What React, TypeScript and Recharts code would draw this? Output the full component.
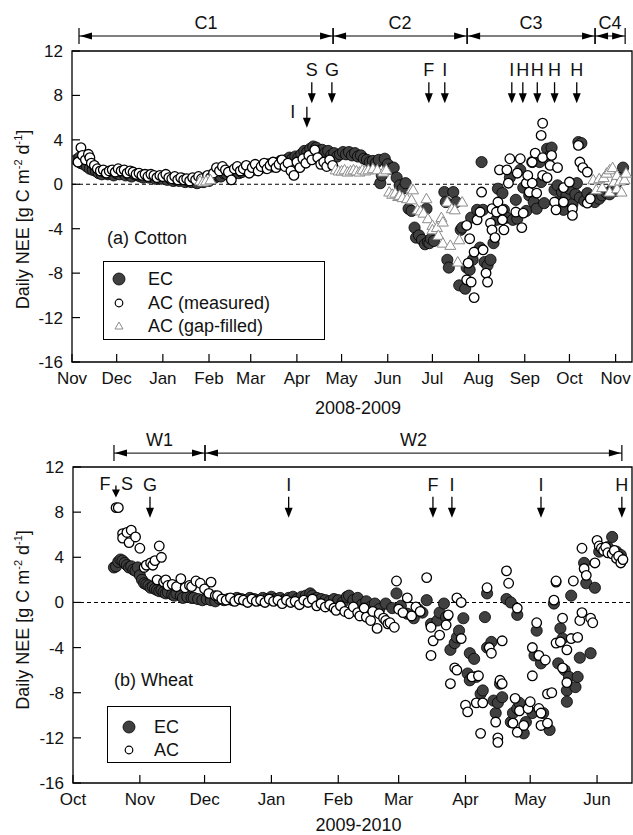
import React from "react";
import { ScatterChart, Scatter, XAxis, YAxis, ReferenceLine, ReferenceDot, ReferenceArea, Legend } from "recharts";

type Pt = [number, number];

// x = days since 1 Nov 2008 (cotton) / 1 Oct 2009 (wheat), y = daily NEE [g C m-2 d-1]
const cottonMonthTicks = [0, 30, 61, 92, 120, 151, 181, 212, 242, 273, 304, 334, 365];
const cottonMonthLabels = ["Nov", "Dec", "Jan", "Feb", "Mar", "Apr", "May", "Jun", "Jul", "Aug", "Sep", "Oct", "Nov"];
const wheatMonthTicks = [0, 31, 61, 92, 123, 151, 182, 212, 243];
const wheatMonthLabels = ["Oct", "Nov", "Dec", "Jan", "Feb", "Mar", "Apr", "May", "Jun"];
const neeTicks = [-16, -12, -8, -4, 0, 4, 8, 12];

const cottonPeriods = [
  { name: "C1", from: 4.7, to: 175.3 },
  { name: "C2", from: 175.3, to: 265.3 },
  { name: "C3", from: 265.3, to: 351.2 },
  { name: "C4", from: 351.2, to: 371.4 },
];
const wheatPeriods = [
  { name: "W1", from: 19, to: 61.2 },
  { name: "W2", from: 61.2, to: 254.5 },
];

const cottonEvents = [
  { day: 157.7, label: "I", kind: "left" },
  { day: 161, label: "S", kind: "top" },
  { day: 174.5, label: "G", kind: "top" },
  { day: 239.6, label: "F", kind: "top" },
  { day: 250.3, label: "I", kind: "top" },
  { day: 295.3, label: "I", kind: "top" },
  { day: 302.7, label: "H", kind: "top" },
  { day: 312.4, label: "H", kind: "top" },
  { day: 324, label: "H", kind: "top" },
  { day: 338.9, label: "H", kind: "top" },
];
const wheatEvents = [
  { day: 19.9, label: "F S", kind: "split" },
  { day: 35.7, label: "G", kind: "top" },
  { day: 100, label: "I", kind: "top" },
  { day: 166.9, label: "F", kind: "top" },
  { day: 175.7, label: "I", kind: "top" },
  { day: 217, label: "I", kind: "top" },
  { day: 254.5, label: "H", kind: "top" },
];

const cottonEC: Pt[] = [
  [3, 2.2], [5, 2.4], [6, 1.9], [8, 1.8], [10, 1.6], [12, 1.4], [14, 1.3], [16, 1.2], [18, 1.0], [20, 0.9],
  [22, 1.1], [24, 0.9], [26, 1.0], [28, 0.8], [30, 1.0], [32, 0.9], [34, 1.1], [36, 0.8], [38, 0.9], [40, 0.7],
  [42, 0.9], [44, 0.8], [46, 0.7], [48, 0.6], [50, 0.8], [52, 0.6], [54, 0.7], [56, 0.5], [58, 0.6], [60, 0.5],
  [62, 0.7], [64, 0.4], [66, 0.5], [68, 0.3], [70, 0.4], [72, 0.3], [74, 0.5], [76, 0.2], [78, 0.3], [80, 0.2],
  [82, 0.4], [84, 0.1], [86, 0.3], [88, 0.2], [90, 0.4], [92, 0.3], [94, 0.5], [96, 0.6], [98, 0.8], [100, 0.7],
  [102, 1.0], [104, 0.9], [106, 1.1], [108, 0.9], [110, 1.2], [112, 1.0], [114, 1.1], [116, 1.3], [118, 1.2], [120, 1.4],
  [122, 1.3], [124, 1.5], [126, 1.4], [128, 1.6], [130, 1.5], [132, 1.8], [134, 1.6], [136, 1.9], [138, 1.8], [140, 2.1],
  [142, 1.9], [144, 2.2], [146, 2.4], [148, 2.3], [150, 2.5], [152, 2.4], [154, 2.7], [156, 3.0], [158, 2.9], [160, 3.2],
  [162, 3.4], [164, 3.3], [166, 3.0], [168, 3.1], [170, 2.8], [172, 3.0], [174, 2.6], [176, 2.8], [178, 2.5], [180, 2.7],
  [182, 2.9], [184, 2.7], [186, 2.9], [188, 2.6], [190, 2.8], [192, 2.5], [194, 2.6], [196, 2.3], [198, 2.2], [200, 2.0],
  [202, 2.1], [204, 1.9], [206, 2.2], [207, 0.1], [208, 0.8], [210, 2.3], [212, 1.8], [214, 1.4], [216, 1.5], [218, 0.6],
  [220, -0.1], [222, -0.4], [224, 0.1], [226, -2.2], [228, -2.4], [230, -3.9], [231, -4.8], [233, -4.6], [235, -5.0], [237, -5.4],
  [238, -2.2], [239, -5.2], [240, -5.3], [241, -4.9], [243, -5.1], [250, -0.7], [251, -1.6], [252, -6.8], [253, -7.5], [256, -0.7],
  [258, -1.6], [260, -9.1], [261, -4.1], [262, -3.9], [264, -9.4], [265, -7.5], [267, -7.7], [268, -3.0], [269, -6.8], [272, -2.3],
  [274, -5.7], [275, 2.0], [276, -2.3], [277, -7.0], [279, -7.3], [281, -6.8], [283, -5.3], [285, -3.2], [286, -0.4], [289, -0.8],
  [290, -2.3], [292, -3.0], [294, 0.6], [296, -3.2], [298, -1.4], [299, -3.1], [301, 1.3], [303, -0.3], [305, -2.4], [307, -1.0],
  [309, 2.0], [310, -1.6], [312, -2.2], [314, 2.0], [315, 0.2], [317, -1.7], [319, 3.2], [321, 2.6], [322, 3.3], [324, -0.5],
  [326, -0.1], [327, -1.5], [329, -0.7], [330, -2.3], [332, -1.0], [334, -0.4], [336, -1.8], [338, -0.9], [339, 0.1], [340, 3.8],
  [341, -1.2], [342, 3.7], [344, -1.5], [346, -0.8], [349, -1.2], [351, -1.6], [354, -1.3], [356, -1.0], [359, -0.8], [361, -0.9],
  [363, -0.4], [365, -0.6], [366, 0.2], [368, 0.6], [370, 1.5],
];

const cottonACMeasured: Pt[] = [
  [4, 2.0], [6, 3.3], [7, 2.6], [9, 2.2], [11, 2.7], [12, 2.4], [13, 1.9], [15, 1.7], [17, 1.4], [19, 1.2],
  [21, 1.3], [23, 1.0], [25, 1.2], [27, 1.3], [29, 1.1], [31, 1.4], [33, 1.2], [35, 1.3], [37, 1.0], [39, 1.2],
  [41, 1.1], [43, 0.9], [45, 1.0], [47, 0.8], [49, 0.9], [51, 0.7], [53, 0.9], [55, 0.8], [57, 0.6], [59, 0.8],
  [61, 0.7], [63, 0.9], [65, 0.6], [67, 0.5], [69, 0.7], [71, 0.4], [73, 0.6], [75, 0.4], [77, 0.5], [79, 0.3],
  [81, 0.6], [83, 0.4], [85, 0.7], [87, 0.5], [89, 0.2], [91, 0.8], [93, 0.6], [95, 1.0], [97, 1.5], [99, 1.2],
  [101, 1.6], [103, 1.3], [105, 1.1], [107, 0.4], [109, 1.4], [111, 1.6], [113, 1.2], [115, 1.4], [117, 1.7], [119, 1.0],
  [121, 1.5], [123, 1.8], [125, 1.2], [127, 1.6], [129, 1.9], [131, 1.4], [133, 1.7], [135, 2.0], [137, 1.5], [139, 1.8],
  [141, 2.2], [143, 1.6], [145, 1.9], [147, 1.2], [149, 0.8], [151, 2.0], [153, 1.5], [155, 2.3], [157, 1.9], [159, 2.6],
  [161, 2.2], [163, 3.1], [165, 2.4], [167, 1.8], [169, 2.0], [171, 1.6], [173, 2.2], [175, 1.7],
  [265, -3.7], [265, -8.6], [266, -7.1], [267, -4.9], [268, -8.8], [270, -10.2], [270, -6.1], [272, -3.2], [274, -2.5], [275, -0.7],
  [276, -5.9], [278, -8.0], [279, -8.8], [281, -3.5], [282, -4.1], [282, -2.2], [284, -4.8], [285, -2.5], [286, -1.6], [287, 1.3],
  [289, -2.3], [289, -3.2], [290, -4.1], [292, 1.3], [293, 0.1], [294, 2.3], [298, -2.5], [299, 1.0], [301, 2.3], [302, -3.9],
  [303, -2.6], [305, 0.1], [306, 0.8], [307, -0.7], [309, 2.0], [309, 0.1], [311, 2.8], [312, -0.8], [315, 4.4], [316, 5.5],
  [316, 2.4], [316, 0.8], [319, 0.6], [321, 1.7], [322, 2.6], [324, -1.6], [325, -2.3], [326, 1.5], [330, -1.6], [330, -0.3],
  [334, 0.2], [336, -2.2], [336, -2.8], [340, 3.5], [341, 2.0], [343, 1.5], [346, 1.1], [346, -1.7], [348, -1.3],
];

const cottonACGapFilled: Pt[] = [
  [86, 0.3], [88, 0.2], [90, 0.3], [93, 0.4],
  [177, 1.3], [179, 1.2], [181, 1.2], [183, 1.3], [185, 1.1], [187, 1.2], [189, 1.3], [191, 1.2], [193, 1.1], [195, 1.3],
  [197, 1.2], [199, 1.3], [202, 1.4], [205, 1.3], [209, 1.1], [211, 1.3], [213, -0.7], [215, -0.9], [217, -0.8], [219, -1.1],
  [220, -1.0], [222, -1.2], [225, -1.3], [228, -1.4], [228, -0.4], [229, -0.5], [232, -2.3], [234, -2.4], [236, -2.6], [238, -1.3],
  [239, -3.1], [242, -3.7], [242, -4.1], [245, -3.9], [246, -4.6], [248, -3.0], [249, -3.4], [249, -5.3], [252, -1.6], [254, -5.5],
  [255, -2.2], [257, -2.3], [259, -7.0], [260, -5.0], [262, -1.6],
  [350, 0.4], [352, -0.5], [354, 0.5], [356, -0.3], [357, 0.6], [359, 1.0], [361, 1.3], [361, -0.7], [363, 1.5], [364, 0.2],
  [366, 0.8], [366, -0.4], [368, 0.3], [369, -0.7], [371, 0.4], [372, 1.0],
];

const wheatEC: Pt[] = [
  [19, 3.1], [20, 3.2], [21, 3.6], [22, 3.8], [23, 3.7], [24, 3.5], [25, 3.3], [26, 3.1], [27, 3.2], [28, 2.9],
  [29, 2.8], [30, 3.1], [31, 2.4], [32, 2.0], [33, 1.7], [34, 1.6], [35, 1.5], [36, 1.3], [37, 1.4], [38, 1.2],
  [39, 1.1], [40, 1.0], [41, 1.1], [42, 0.9], [43, 0.8], [44, 0.9], [46, 0.7], [47, 0.6], [48, 0.8], [50, 0.6],
  [51, 0.4], [53, 0.5], [55, 0.4], [56, 0.4], [58, 0.3], [60, 0.2], [62, 0.3], [64, 0.2], [66, 0.1], [68, 0.3],
  [70, 0.2], [72, 0.3], [74, 0.2], [76, 0.4], [78, 0.3], [80, 0.2], [82, 0.4], [84, 0.3], [86, 0.2], [88, 0.4],
  [90, 0.3], [92, 0.5], [94, 0.3], [96, 0.4], [98, 0.2], [100, 0.4], [102, 0.5], [104, 0.3], [106, 0.5], [108, 0.6],
  [110, 0.8], [111, 0.6], [113, 0.4], [115, 0.3], [117, 0.2], [119, 0.1], [121, 0.3], [123, 0.2], [125, 0.0], [127, 0.5],
  [128, 0.6], [130, 0.2], [132, 0.4], [134, -0.2], [136, 0.1], [138, -0.4], [140, -0.1], [142, -0.6], [145, -0.1], [148, -0.5],
  [150, 0.8], [152, -0.3], [155, -1.0], [158, -1.4], [160, -0.6], [162, -0.9], [164, 0.2], [166, -1.9], [169, -1.6], [170, -0.9],
  [172, -0.1], [173, -1.3], [175, -4.2], [177, -3.6], [178, -3.1], [179, -2.5], [181, -1.4], [183, -6.3], [184, -4.5], [184, -6.9],
  [186, -5.0], [187, -6.6], [189, -8.1], [190, -7.8], [191, -1.3], [192, 0.8], [192, -4.0], [194, -3.5], [195, -8.7], [196, -9.8],
  [197, -8.9], [198, -7.2], [199, -8.4], [201, 0.3], [203, 0.0], [203, -10.6], [204, -9.8], [206, -9.4], [206, -1.1], [207, -8.9],
  [209, -11.6], [210, -10.6], [213, -9.8], [214, -4.7], [215, -2.5], [217, -5.4], [218, -9.8], [221, -11.3], [223, -0.1], [225, -5.4],
  [226, -2.3], [227, -3.2], [228, -6.0], [229, -7.8], [229, -8.8], [230, -6.6], [231, 0.6], [233, -7.5], [234, -6.6], [235, -4.9],
  [237, 3.5], [238, 1.7], [240, -4.5], [242, 1.3], [244, 4.5], [246, 4.7], [248, 4.9], [250, 5.8], [252, 4.5], [254, 4.2],
];

const wheatAC: Pt[] = [
  [20, 8.4], [21, 8.4], [23, 6.1], [23, 5.7], [25, 6.2], [26, 5.3], [27, 6.4], [29, 5.8], [31, 4.8], [33, 3.1],
  [34, 3.3], [36, 3.5], [37, 3.3], [38, 3.7], [40, 5.0], [41, 4.0], [39, 2.0], [42, 1.8], [43, 2.0], [44, 1.5],
  [46, 1.6], [48, 1.4], [50, 2.1], [52, 1.3], [54, 1.5], [55, 1.4], [57, 1.9], [59, 1.7], [61, 1.2], [63, 0.8],
  [64, 1.8], [66, 0.6], [67, 0.6], [69, 0.3], [71, 0.2], [73, 0.4], [75, 0.1], [77, 0.3], [79, 0.2], [81, 0.0],
  [83, 0.3], [85, 0.1], [87, 0.2], [89, 0.0], [91, 0.3], [93, 0.1], [95, 0.2], [97, -0.1], [99, 0.2], [101, 0.0],
  [103, 0.1], [105, -0.2], [107, 0.2], [109, 0.0], [111, 0.3], [113, -0.3], [115, -0.1], [117, -0.4], [119, -0.2], [121, -0.5],
  [122, -0.7], [124, -0.3], [126, -0.8], [128, -1.0], [130, -0.4], [132, -0.9], [133, -1.2], [135, -0.5], [136, -1.3], [138, -1.6],
  [139, -0.8], [141, -2.3], [142, -1.0], [144, -1.4], [145, -1.6], [146, -1.9], [147, -1.8], [149, -2.2], [150, 1.9], [151, -0.6],
  [153, -0.9], [155, 0.4], [157, -1.2], [159, -0.4], [161, -0.8], [164, 2.2], [166, -2.2], [166, -4.7], [167, -3.4], [170, -2.9],
  [173, -2.0], [174, -1.1], [175, -7.2], [177, -5.8], [178, -6.0], [178, 0.4], [180, 0.0], [180, -3.2], [182, -9.1], [183, -9.7],
  [185, -6.6], [187, -8.9], [188, -6.5], [189, -11.6], [190, -8.9], [192, 1.3], [193, -4.0], [194, -4.5], [196, -10.6], [197, -12.0],
  [197, -12.4], [198, -6.9], [199, -7.2], [199, -3.4], [201, 2.8], [202, 1.7], [204, -10.7], [205, -8.5], [206, -0.5], [206, -11.5],
  [207, -9.6], [209, -10.9], [211, -9.4], [212, -8.8], [213, -6.5], [213, -4.0], [215, -1.8], [216, -4.7], [216, -9.4], [217, -9.8],
  [217, -10.9], [219, -5.1], [220, -10.7], [220, -8.1], [222, -8.0], [223, 0.2], [224, 1.8], [224, 1.9], [224, -3.6], [226, -3.5],
  [227, -1.4], [227, -5.8], [229, -4.2], [229, -7.1], [231, -3.2], [232, 1.9], [234, -3.1], [235, -1.6], [236, -0.9], [236, 4.8],
  [237, 3.0], [238, 2.4], [240, -1.4], [241, -1.8], [242, 3.5], [243, 5.5], [244, 5.0], [245, 4.8], [246, 4.6], [247, 4.9],
  [248, 4.4], [250, 4.3], [251, 4.6], [252, 3.9], [253, 4.1], [254, 3.5], [255, 3.8],
];

const FONT = '"Liberation Sans", Arial, Helvetica, sans-serif';
const INK = "#111";

const toPts = (a: Pt[]) => a.map(([d, v]) => ({ d, v }));

const ecShape = (p: any) => <circle cx={p.cx} cy={p.cy} r={5.6} fill="#404040" stroke="#000" strokeWidth={0.8} />;
const acShape = (p: any) => <circle cx={p.cx} cy={p.cy} r={4.8} fill="#fff" stroke="#000" strokeWidth={1.3} />;
const gapShape = (p: any) => (
  <polygon
    points={`${p.cx},${p.cy - 5.5} ${p.cx + 5.5},${p.cy + 4} ${p.cx - 5.5},${p.cy + 4}`}
    fill="#fff"
    stroke="#8c8c8c"
    strokeWidth={1}
  />
);

const monthTick = (ticks: number[], labels: string[]) => (p: any) => {
  const i = ticks.indexOf(p.payload.value);
  return (
    <g>
      <line x1={p.x} y1={p.y} x2={p.x} y2={p.y - 8} stroke="#000" strokeWidth={1.2} />
      <text x={p.x} y={p.y + 22} textAnchor="middle" fontSize={17} fontFamily={FONT} fill={INK}>
        {labels[i]}
      </text>
    </g>
  );
};

const neeTick = (p: any) => (
  <g>
    <line x1={p.x} y1={p.y} x2={p.x + 8} y2={p.y} stroke="#000" strokeWidth={1.2} />
    <text x={p.x - 9} y={p.y + 6} textAnchor="end" fontSize={17} fontFamily={FONT} fill={INK}>
      {p.payload.value}
    </text>
  </g>
);

const yLabel = (shift: number) => (props: any) => {
  const vb = props.viewBox;
  const x = 29;
  const cy = vb.y + vb.height / 2 + shift;
  return (
    <text
      x={x}
      y={cy}
      transform={`rotate(-90 ${x} ${cy})`}
      textAnchor="middle"
      fontSize={18}
      fontFamily={FONT}
      fill={INK}
    >
      Daily NEE [g C m
      <tspan dy={-7} fontSize={11}>-2</tspan>
      <tspan dy={7}> d</tspan>
      <tspan dy={-7} fontSize={11}>-1</tspan>
      <tspan dy={7}>]</tspan>
    </text>
  );
};

const xLabel = (text: string, below: number) => (props: any) => {
  const vb = props.viewBox;
  return (
    <text x={vb.x + vb.width / 2 + 6} y={vb.y + below} textAnchor="middle" fontSize={18} fontFamily={FONT} fill={INK}>
      {text}
    </text>
  );
};

const periodShape = (label: string) => (p: any) => {
  const { x1, x2, y1 } = p;
  return (
    <g>
      <line x1={x1} y1={y1} x2={x2} y2={y1} stroke="#000" strokeWidth={1} />
      <line x1={x1} y1={y1 - 8} x2={x1} y2={y1 + 8} stroke="#000" strokeWidth={1.2} />
      <line x1={x2} y1={y1 - 8} x2={x2} y2={y1 + 8} stroke="#000" strokeWidth={1.2} />
      <polygon points={`${x1 + 1},${y1} ${x1 + 13},${y1 - 3.5} ${x1 + 13},${y1 + 3.5}`} fill="#000" />
      <polygon points={`${x2 - 1},${y1} ${x2 - 13},${y1 - 3.5} ${x2 - 13},${y1 + 3.5}`} fill="#000" />
      <text x={(x1 + x2) / 2} y={y1 - 7} textAnchor="middle" fontSize={18} fontFamily={FONT} fill={INK}>
        {label}
      </text>
    </g>
  );
};

const eventShape = (label: string, kind: string) => (p: any) => {
  const { cx, cy } = p;
  const txt = (x: number, y: number, s: string) => (
    <text x={x} y={y} textAnchor="middle" fontSize={18} fontFamily={FONT} fill={INK}>
      {s}
    </text>
  );
  if (kind === "split") {
    const [a, b] = label.split(" ");
    return (
      <g>
        <line x1={cx} y1={cy - 12} x2={cx} y2={cy - 6} stroke="#000" strokeWidth={1.3} />
        <polygon points={`${cx - 4},${cy - 8} ${cx + 4},${cy - 8} ${cx},${cy}`} fill="#000" />
        {txt(cx - 11, cy - 7, a)}
        {txt(cx + 11, cy - 7, b)}
      </g>
    );
  }
  return (
    <g>
      <line x1={cx} y1={cy - 21} x2={cx} y2={cy - 8} stroke="#000" strokeWidth={1.3} />
      <polygon points={`${cx - 4},${cy - 10} ${cx + 4},${cy - 10} ${cx},${cy}`} fill="#000" />
      {kind === "left" ? txt(cx - 14, cy - 10, label) : txt(cx, cy - 27, label)}
    </g>
  );
};

const LegendRow = ({ top, left, textLeft, marker, text }: any) => (
  <>
    <svg style={{ position: "absolute", left: left - 8, top: top - 8 }} width={16} height={16}>
      {marker}
    </svg>
    <div style={{ position: "absolute", left: textLeft, top: top - 11, fontSize: 18, lineHeight: "22px", whiteSpace: "nowrap", color: INK }}>
      {text}
    </div>
  </>
);

const ecMark = <circle cx={8} cy={8} r={6} fill="#404040" stroke="#000" strokeWidth={0.8} />;
const acMark = <circle cx={8} cy={8} r={3.8} fill="#fff" stroke="#000" strokeWidth={1.2} />;
const gapMark = <polygon points="8,4 12,11 4,11" fill="#fff" stroke="#8c8c8c" strokeWidth={1} />;

const CottonLegend = () => (
  <div style={{ position: "relative", width: 230, height: 115, fontFamily: FONT }}>
    <div style={{ position: "absolute", left: 4, top: 0, fontSize: 18, lineHeight: "22px", color: INK, whiteSpace: "nowrap" }}>(a) Cotton</div>
    <div style={{ position: "absolute", left: 0, top: 34, width: 222, height: 79, border: "1.3px solid #000", boxSizing: "border-box", background: "#fff" }}>
      <LegendRow top={17} left={15} textLeft={44} marker={ecMark} text="EC" />
      <LegendRow top={41} left={15} textLeft={44} marker={acMark} text="AC (measured)" />
      <LegendRow top={64} left={15} textLeft={44} marker={gapMark} text="AC (gap-filled)" />
    </div>
  </div>
);

const WheatLegend = () => (
  <div style={{ position: "relative", width: 130, height: 96, fontFamily: FONT }}>
    <div style={{ position: "absolute", left: 7, top: 0, fontSize: 18, lineHeight: "22px", color: INK, whiteSpace: "nowrap" }}>(b) Wheat</div>
    <div style={{ position: "absolute", left: 0, top: 37, width: 124, height: 57, border: "1.3px solid #000", boxSizing: "border-box", background: "#fff" }}>
      <LegendRow top={20} left={21} textLeft={46} marker={ecMark} text="EC" />
      <LegendRow top={43} left={21} textLeft={46} marker={acMark} text="AC" />
    </div>
  </div>
);

const COTTON_XMAX = 376;
const WHEAT_XMAX = 259.2;
const COTTON_BAR = 13.35;
const WHEAT_BAR = 13.23;
const COTTON_TIP = 7.3;
const COTTON_LOW_TIP = 5.1;
const WHEAT_TIP = 7.5;
const WHEAT_SPLIT_TIP = 9.3;

export default function App() {
  return (
    <div style={{ position: "absolute", left: 0, top: 0, width: 633, height: 835, background: "#fff", fontFamily: FONT }}>
      <div style={{ position: "absolute", left: 0, top: 0 }}>
        <ScatterChart width={633} height={425} margin={{ top: 51, right: 1, left: 0, bottom: 3 }}>
          <XAxis
            type="number"
            dataKey="d"
            domain={[0, COTTON_XMAX]}
            allowDataOverflow
            ticks={cottonMonthTicks}
            interval={0}
            tickSize={0}
            tickMargin={0}
            axisLine={false}
            tickLine={false}
            tick={monthTick(cottonMonthTicks, cottonMonthLabels)}
            height={60}
            label={{ content: xLabel("2008-2009", 52) } as any}
          />
          <YAxis
            type="number"
            dataKey="v"
            domain={[-16, 12]}
            allowDataOverflow
            ticks={neeTicks}
            interval={0}
            tickSize={0}
            tickMargin={0}
            axisLine={false}
            tickLine={false}
            tick={neeTick}
            width={72}
            label={{ content: yLabel(13) } as any}
          />
          <ReferenceLine y={0} stroke="#000" strokeWidth={1.1} strokeDasharray="4 3" />
          <Scatter name="EC" data={toPts(cottonEC)} shape={ecShape} isAnimationActive={false} />
          <Scatter name="AC (measured)" data={toPts(cottonACMeasured)} shape={acShape} isAnimationActive={false} />
          <Scatter name="AC (gap-filled)" data={toPts(cottonACGapFilled)} shape={gapShape} isAnimationActive={false} />
          <ReferenceArea x1={0} x2={COTTON_XMAX} y1={-16} y2={12} fill="none" stroke="#000" strokeWidth={1.3} ifOverflow="visible" />
          {cottonPeriods.map((p) => (
            <ReferenceLine
              key={p.name}
              segment={[{ x: p.from, y: COTTON_BAR }, { x: p.to, y: COTTON_BAR }]}
              ifOverflow="visible"
              shape={periodShape(p.name)}
            />
          ))}
          {cottonEvents.map((e, i) => (
            <ReferenceDot
              key={i}
              x={e.day}
              y={e.kind === "left" ? COTTON_LOW_TIP : COTTON_TIP}
              ifOverflow="visible"
              shape={eventShape(e.label, e.kind)}
            />
          ))}
          <Legend
            layout="vertical"
            align="center"
            verticalAlign="middle"
            content={() => <CottonLegend />}
            wrapperStyle={{ left: 103, top: 227, width: 230, height: 115 }}
          />
        </ScatterChart>
      </div>
      <div style={{ position: "absolute", left: 0, top: 425 }}>
        <ScatterChart width={633} height={410} margin={{ top: 42, right: 1, left: 0, bottom: 2 }}>
          <XAxis
            type="number"
            dataKey="d"
            domain={[0, WHEAT_XMAX]}
            allowDataOverflow
            ticks={wheatMonthTicks}
            interval={0}
            tickSize={0}
            tickMargin={0}
            axisLine={false}
            tickLine={false}
            tick={monthTick(wheatMonthTicks, wheatMonthLabels)}
            height={50}
            label={{ content: xLabel("2009-2010", 48) } as any}
          />
          <YAxis
            type="number"
            dataKey="v"
            domain={[-16, 12]}
            allowDataOverflow
            ticks={neeTicks}
            interval={0}
            tickSize={0}
            tickMargin={0}
            axisLine={false}
            tickLine={false}
            tick={neeTick}
            width={73}
            label={{ content: yLabel(-5) } as any}
          />
          <ReferenceLine y={0} stroke="#000" strokeWidth={1.1} strokeDasharray="4 3" />
          <Scatter name="EC" data={toPts(wheatEC)} shape={ecShape} isAnimationActive={false} />
          <Scatter name="AC" data={toPts(wheatAC)} shape={acShape} isAnimationActive={false} />
          <ReferenceArea x1={0} x2={WHEAT_XMAX} y1={-16} y2={12} fill="none" stroke="#000" strokeWidth={1.3} ifOverflow="visible" />
          {wheatPeriods.map((p) => (
            <ReferenceLine
              key={p.name}
              segment={[{ x: p.from, y: WHEAT_BAR }, { x: p.to, y: WHEAT_BAR }]}
              ifOverflow="visible"
              shape={periodShape(p.name)}
            />
          ))}
          {wheatEvents.map((e, i) => (
            <ReferenceDot
              key={i}
              x={e.day}
              y={e.kind === "split" ? WHEAT_SPLIT_TIP : WHEAT_TIP}
              ifOverflow="visible"
              shape={eventShape(e.label, e.kind)}
            />
          ))}
          <Legend
            layout="vertical"
            align="center"
            verticalAlign="middle"
            content={() => <WheatLegend />}
            wrapperStyle={{ left: 107, top: 244, width: 130, height: 96 }}
          />
        </ScatterChart>
      </div>
    </div>
  );
}
